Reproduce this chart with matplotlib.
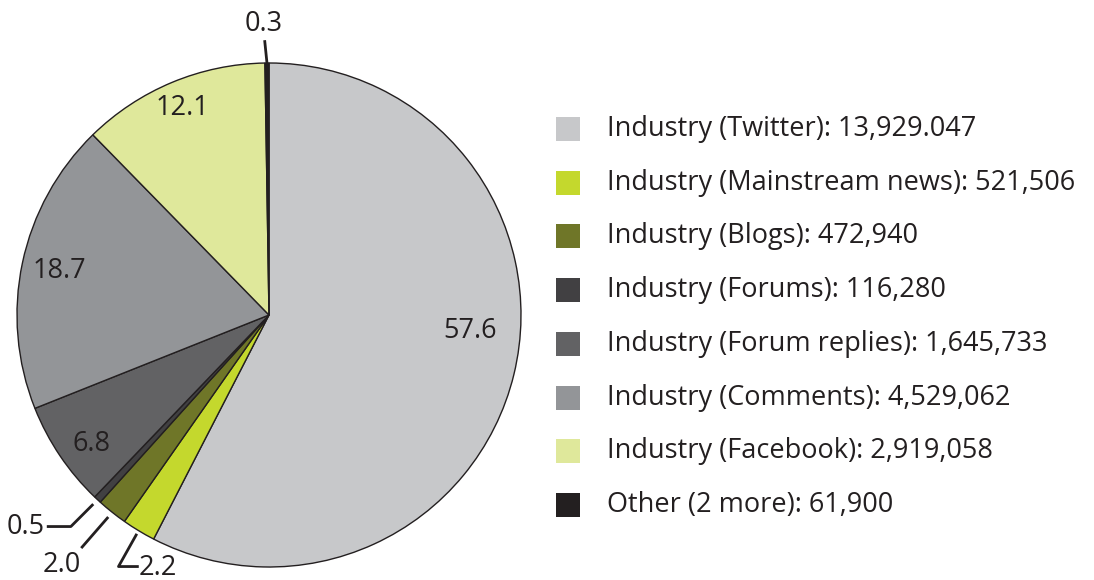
import numpy as np
import matplotlib.pyplot as plt
from matplotlib.patches import Rectangle

plt.rcParams['font.family'] = ['Open Sans', 'DejaVu Sans']

names = ["Industry (Twitter)", "Industry (Mainstream news)", "Industry (Blogs)",
         "Industry (Forums)", "Industry (Forum replies)", "Industry (Comments)",
         "Industry (Facebook)", "Other (2 more)"]
counts = [13929047, 521506, 472940, 116280, 1645733, 4529062, 2919058, 61900]
count_labels = ["13,929.047", "521,506", "472,940", "116,280", "1,645,733",
                "4,529,062", "2,919,058", "61,900"]
colors = ["#c7c8ca", "#c4d82d", "#6f7628", "#414042", "#626264", "#939598",
          "#dfe89b", "#231f20"]

counts = np.array(counts, dtype=float)
pct = counts / counts.sum() * 100

fig = plt.figure(figsize=(10.94, 5.8), dpi=100)
ax = fig.add_axes([17/1094, 13/580, 504/1094, 504/580])

wedges, _ = ax.pie(counts, colors=colors, startangle=90, counterclock=False,
                   radius=1, wedgeprops=dict(edgecolor='#231f20', linewidth=1.0))
ax.set_xlim(-1, 1)
ax.set_ylim(-1, 1)
ax.set_aspect('equal')
ax.axis('off')

def mid_angle(w):
    return np.deg2rad((w.theta1 + w.theta2) / 2)

txt = dict(fontsize=19.5, color='#231f20')

# etiquetas dentro de las porciones grandes (radio, corrimiento de ángulo)
inside = {0: (0.80, 9), 4: (0.87, 2), 5: (0.85, 0), 6: (0.89, 0)}
for i, (r, off) in inside.items():
    a = mid_angle(wedges[i]) + np.deg2rad(off)
    ax.text(r*np.cos(a), r*np.sin(a), f"{pct[i]:.1f}", ha='center', va='center', **txt)

# porciones chicas con línea guía
lw = 2.0
a = mid_angle(wedges[7])
ax.plot([np.cos(a), 1.085*np.cos(a) - 0.008], [1.0, 1.085], color='#231f20', lw=lw,
        clip_on=False)
ax.text(1.16*np.cos(a) - 0.01, 1.155, f"{pct[7]:.1f}", ha='center', va='center',
        **txt)

# 2.2
a = mid_angle(wedges[1])
p0 = np.array([np.cos(a), np.sin(a)]) * 1.02
p1 = p0 + np.array([-0.07, -0.125])
p2 = p1 + np.array([0.075, 0])
ax.plot([p0[0], p1[0], p2[0]], [p0[1], p1[1], p2[1]], color='#231f20', lw=lw,
        clip_on=False)
ax.text(p2[0] + 0.005, p2[1] - 0.005, f"{pct[1]:.1f}", ha='left', va='center', **txt)

# 2.0
a = mid_angle(wedges[2])
p0 = np.array([np.cos(a), np.sin(a)]) * 1.03
p1 = p0 + np.array([-0.10, -0.115])
ax.plot([p0[0], p1[0]], [p0[1], p1[1]], color='#231f20', lw=lw, clip_on=False)
ax.text(p1[0] - 0.08, p1[1] - 0.07, f"{pct[2]:.1f}", ha='center', va='center', **txt)

# 0.5
a = mid_angle(wedges[3])
p0 = np.array([np.cos(a), np.sin(a)]) * 1.03
p1 = p0 + np.array([-0.085, -0.085])
p2 = p1 + np.array([-0.09, 0])
ax.plot([p0[0], p1[0], p2[0]], [p0[1], p1[1], p2[1]], color='#231f20', lw=lw,
        clip_on=False)
ax.text(p2[0] - 0.015, p2[1], f"{pct[3]:.1f}", ha='right', va='center', **txt)

# leyenda manual
y0, dy = 129, 53.7
for i, (n, c, lab) in enumerate(zip(names, colors, count_labels)):
    yc = y0 + i*dy
    fig.add_artist(Rectangle((556/1094, 1 - (yc + 12)/580), 24/1094, 24/580,
                             transform=fig.transFigure, facecolor=c, edgecolor='none'))
    fig.text(607/1094, 1 - yc/580, f"{n}: {lab}", ha='left', va='center', **txt)

fig.savefig("out.png", dpi=100)
